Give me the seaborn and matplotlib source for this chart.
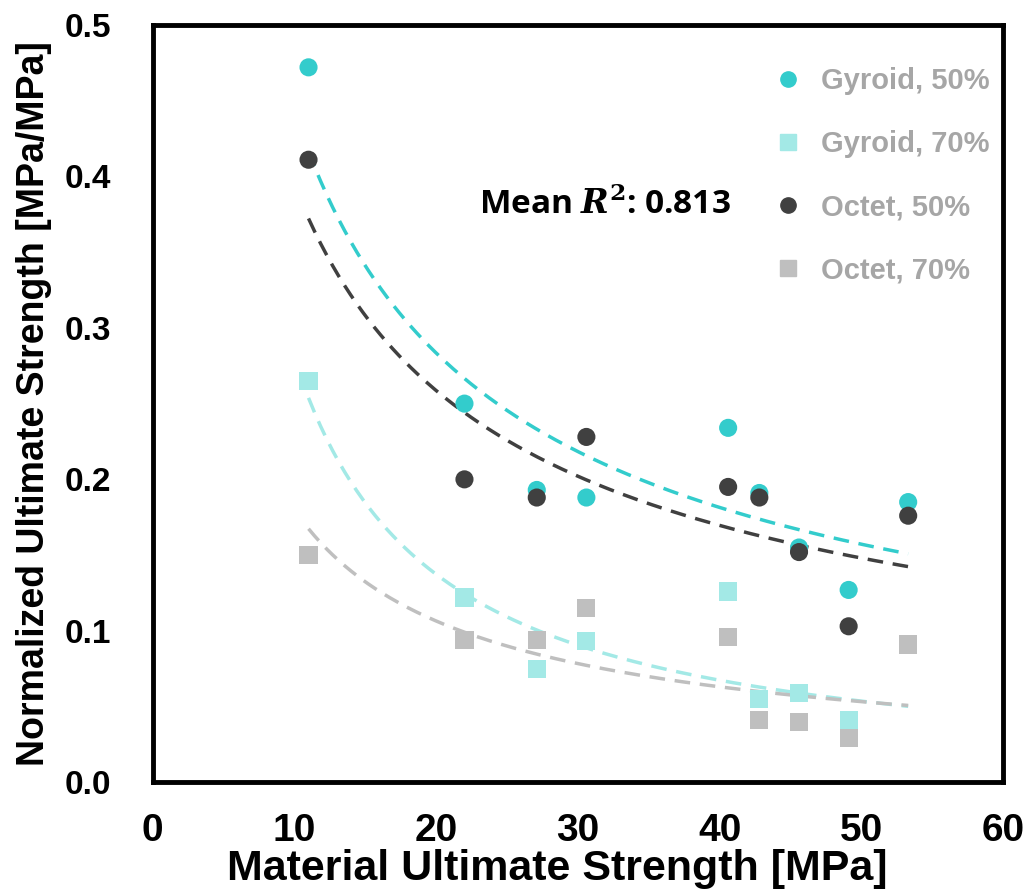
import numpy as np
import pandas as pd
import matplotlib
matplotlib.use("Agg")
import matplotlib.pyplot as plt
import seaborn as sns
from matplotlib.lines import Line2D
from matplotlib import font_manager

# material ultimate strength [MPa]
strength = [11.0, 22.0, 27.1, 30.6, 40.6, 42.8, 45.6, 49.1, 53.3]

gyroid_50 = [0.472, 0.250, 0.193, 0.188, 0.234, 0.191, 0.155, 0.127, 0.185]
gyroid_70 = [0.265, 0.122, 0.075, 0.093, 0.126, 0.055, 0.059, 0.041, np.nan]
octet_50 = [0.411, 0.200, 0.188, 0.228, 0.195, 0.188, 0.152, 0.103, 0.176]
octet_70 = [0.150, 0.094, 0.094, 0.115, 0.096, 0.041, 0.040, 0.029, 0.091]

series_names = ["Gyroid, 50%", "Gyroid, 70%", "Octet, 50%", "Octet, 70%"]
series_vals = [gyroid_50, gyroid_70, octet_50, octet_70]
colors = ["#33CCCC", "#A3E9E6", "#404040", "#BFBFBF"]
markers = ["o", "s", "o", "s"]
mean_r2 = 0.813

sns.set_style("white")
names = {f.name for f in font_manager.fontManager.ttflist}
narrow = "Liberation Sans Narrow" if "Liberation Sans Narrow" in names else "Liberation Sans"
plt.rcParams["font.family"] = ["Liberation Sans", "DejaVu Sans"]
plt.rcParams["font.weight"] = "bold"
plt.rcParams["text.color"] = "black"
plt.rcParams["axes.labelcolor"] = "black"
plt.rcParams["mathtext.fontset"] = "dejavuserif"

rows = []
for name, vals in zip(series_names, series_vals):
    for x, y in zip(strength, vals):
        if not np.isnan(y):
            rows.append({"strength": x, "norm": y, "series": name})
df = pd.DataFrame(rows)

# power-law fits (linear in log-log space)
fit_rows = []
xs = np.linspace(min(strength), max(strength), 200)
for name in series_names:
    d = df[df.series == name]
    b, a = np.polyfit(np.log(d.strength), np.log(d.norm), 1)
    for x in xs:
        fit_rows.append({"strength": x, "norm": np.exp(a) * x ** b, "series": name})
fits = pd.DataFrame(fit_rows)

fig = plt.figure(figsize=(10.31, 8.90), dpi=100)
ax = fig.add_axes([0.148, 0.121, 0.825, 0.851])

pal = dict(zip(series_names, colors))
sns.lineplot(data=fits, x="strength", y="norm", hue="series", palette=pal,
             linestyle=(0, (4.5, 2.8)), linewidth=2.5, legend=False, ax=ax)
sns.scatterplot(data=df, x="strength", y="norm", hue="series", style="series",
                palette=pal, markers=dict(zip(series_names, markers)),
                s=170, linewidth=0, legend=False, ax=ax, zorder=3)

ax.set_xlim(0, 60)
ax.set_ylim(0, 0.5)
ax.set_xticks(range(0, 61, 10))
ax.set_yticks(np.arange(0, 0.51, 0.1))
ax.set_yticklabels([f"{v:.1f}" for v in np.arange(0, 0.51, 0.1)])
for sp in ax.spines.values():
    sp.set_linewidth(3.5)
    sp.set_color("black")
ax.tick_params(direction="in", length=7, width=3, colors="black", labelcolor="black")
ax.tick_params(axis="x", pad=22)
ax.tick_params(axis="y", pad=30)
for lab in ax.get_xticklabels():
    lab.set_fontfamily(narrow)
    lab.set_fontsize(28)
    lab.set_fontweight("bold")
for lab in ax.get_yticklabels():
    lab.set_fontsize(24)
    lab.set_fontweight("bold")

ax.set_xlabel("Material Ultimate Strength [MPa]", fontsize=31, fontweight="bold",
              family=narrow, color="black")
ax.xaxis.set_label_coords(0.476, -0.088)
ax.set_ylabel("Normalized Ultimate Strength [MPa/MPa]", fontsize=27,
              fontweight="bold", labelpad=9, color="black")

ax.text(23.0, 0.381, r"Mean $\mathbf{\mathit{R}}^2$: " + f"{mean_r2:.3f}", fontsize=24,
        fontweight="bold", family=["Open Sans", "DejaVu Sans"], va="center",
        ha="left", color="black")

handles = [Line2D([], [], marker=m, color=c, linestyle="none", markersize=11)
           for m, c in zip(markers, colors)]
leg = ax.legend(handles, series_names, loc="upper right", frameon=False,
                labelcolor="#A6A6A6", prop={"weight": "bold", "size": 21},
                labelspacing=1.2, handletextpad=0.15, borderaxespad=0.4,
                bbox_to_anchor=(1.012, 0.975))

fig.savefig("out.png", dpi=100)
